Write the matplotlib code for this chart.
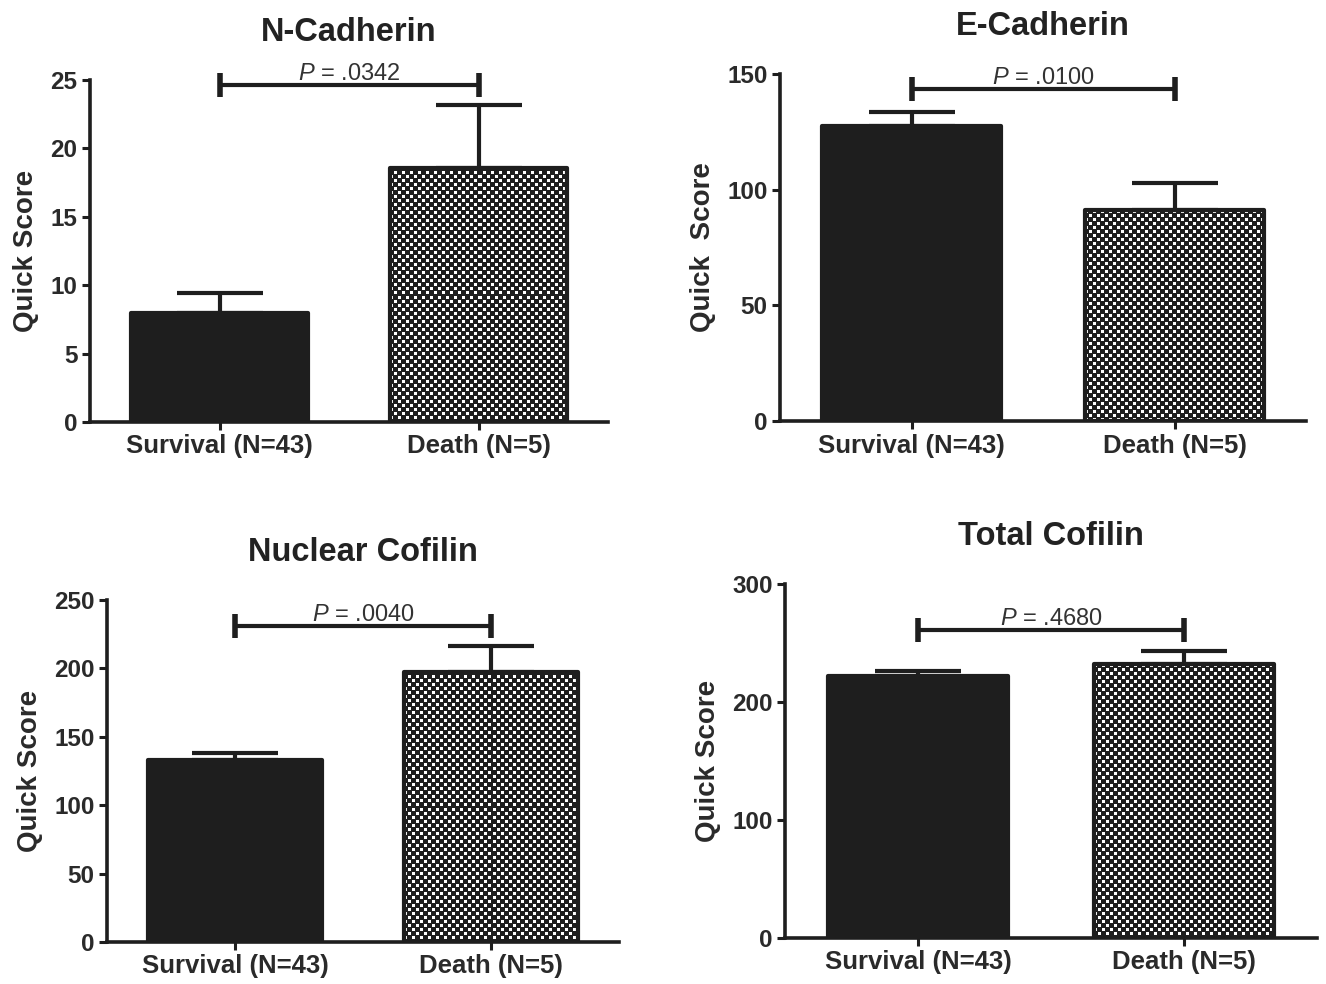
import numpy as np
import matplotlib
matplotlib.use('Agg')
import matplotlib.pyplot as plt
from matplotlib.colors import ListedColormap

plt.rcParams['font.family'] = ['Liberation Sans', 'DejaVu Sans']
plt.rcParams['mathtext.fontset'] = 'custom'
plt.rcParams['mathtext.it'] = 'Liberation Sans:italic'
plt.rcParams['mathtext.rm'] = 'Liberation Sans'

# data
titles = ['N-Cadherin', 'E-Cadherin', 'Nuclear Cofilin', 'Total Cofilin']
groups = ['Survival (N=43)', 'Death (N=5)']
means = [[8.0, 18.6], [127.5, 91.2], [133.0, 197.4], [222.0, 232.2]]
errs = [[1.4, 4.6], [6.1, 11.7], [5.2, 19.0], [4.3, 11.0]]
pvals = ['.0342', '.0100', '.0040', '.4680']
bracket_y = [24.6, 143.5, 231, 261]
ymax = [25, 150, 250, 300]
ystep = [5, 50, 50, 100]
ylabels = ['Quick Score', 'Quick  Score', 'Quick Score', 'Quick Score']

W, H = 1326, 984
# axes boxes in pixels: left, right, bottom, top
boxes = [(90, 608, 422, 80), (780, 1306, 421, 74),
         (107, 619, 942, 600), (785, 1317, 938, 584)]

dark = '#1e1e1e'
bw = 0.68


def checker_pixels(hpx, wpx, cell=4):
    # white squares a pixel smaller than the cell, dark in between
    r = np.arange(hpx)[:, None]
    c = np.arange(wpx)[None, :]
    white = (((r // cell) + (c // cell)) % 2 == 0) & (r % cell != cell - 1) & (c % cell != cell - 1)
    return np.where(white, 0, 1)


fig = plt.figure(figsize=(W / 100, H / 100), dpi=100)

for i in range(4):
    l, r, b, t = boxes[i]
    ax = fig.add_axes([l / W, 1 - b / H, (r - l) / W, (b - t) / H])
    x = np.arange(2)
    bars = ax.bar(x, means[i], width=bw, color=[dark, 'none'], edgecolor=dark,
                  linewidth=3, zorder=3, joinstyle='round')
    # checkerboard fill for the second bar
    wpx = int(round(bw * (r - l) / 2.0))
    hpx = int(round(means[i][1] * (b - t) / ymax[i]))
    im = ax.imshow(checker_pixels(hpx, wpx), cmap=ListedColormap(['white', dark]),
                   extent=(1 - bw / 2, 1 + bw / 2, 0, means[i][1]),
                   interpolation='nearest', aspect='auto', zorder=2)
    im.set_clip_path(bars[1])
    # upper error bars only
    ax.errorbar(x, means[i], yerr=[[0, 0], errs[i]], fmt='none', ecolor=dark,
                elinewidth=3, capsize=31, capthick=3, zorder=2.5)
    # significance bracket
    ax.plot([0, 1], [bracket_y[i]] * 2, color=dark, lw=3, marker='|',
            markersize=17, markeredgewidth=4, solid_capstyle='butt', zorder=4,
            clip_on=False)
    ax.text(0.5, bracket_y[i], r'$P$ = ' + pvals[i], ha='center', va='bottom',
            fontsize=17, color='#333333')
    ax.set_xlim(-0.5, 1.5)
    ax.set_ylim(0, ymax[i])
    ax.set_yticks(np.arange(0, ymax[i] + 1, ystep[i]))
    ax.set_xticks(x)
    ax.set_xticklabels(groups)
    ax.spines['top'].set_visible(False)
    ax.spines['right'].set_visible(False)
    for s in ['left', 'bottom']:
        ax.spines[s].set_linewidth(2.6)
        ax.spines[s].set_color(dark)
    ax.tick_params(width=2.2, length=6, color=dark, pad=3)
    ax.tick_params(axis='x', labelsize=18.5)
    ax.tick_params(axis='y', labelsize=17.5)
    for lab in ax.get_xticklabels() + ax.get_yticklabels():
        lab.set_fontweight('bold')
        lab.set_color('#2a2a2a')
    ax.set_ylabel(ylabels[i], fontsize=20, fontweight='bold', color='#2a2a2a',
                  labelpad=8)
    ax.set_title(titles[i], fontsize=23.5, fontweight='bold', color='#222222',
                 pad=28)

fig.savefig('out.png', dpi=100)
